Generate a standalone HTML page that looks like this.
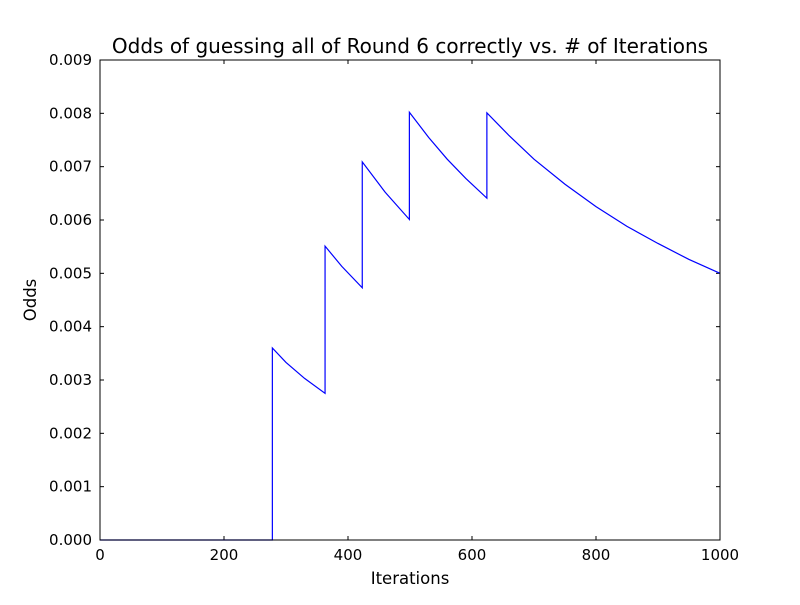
<!DOCTYPE html>
<html><head><meta charset="utf-8"><style>
body{margin:0;background:#fff}
svg text{font-family:"DejaVu Sans","Liberation Sans",sans-serif;fill:#000}
</style></head><body>
<svg id="chart" width="800" height="600" xmlns="http://www.w3.org/2000/svg">
<rect width="800" height="600" fill="#fff"/>
<text x="410" y="53" text-anchor="middle" font-size="20">Odds of guessing all of Round 6 correctly vs. # of Iterations</text>
<text x="410" y="584" text-anchor="middle" font-size="16.5">Iterations</text>
<text transform="translate(36,300) rotate(-90)" text-anchor="middle" font-size="16.5">Odds</text>
<g id="ticks"></g>
<polyline id="series" fill="none" stroke="#0000ff" stroke-width="1.2"/>
<rect x="100" y="60" width="620" height="480" fill="none" stroke="#000" stroke-width="1"/>
</svg>
<script>
const iterations = [0,278,278,300,330,363,363,390,423,423,460,499,499,530,560,590,624,624,660,700,750,800,850,900,950,1000];
const odds = [0,0,0.00360,0.00333,0.00303,0.00275,0.00551,0.00513,0.00473,0.00709,0.00652,0.00601,0.00802,0.00755,0.00714,0.00678,0.00641,0.00801,0.00758,0.00714,0.00667,0.00625,0.00588,0.00556,0.00526,0.00500];
const xTicks = [0,200,400,600,800,1000];
const yTicks = [0,0.001,0.002,0.003,0.004,0.005,0.006,0.007,0.008,0.009];
const yTickLabels = ["0.000","0.001","0.002","0.003","0.004","0.005","0.006","0.007","0.008","0.009"];
const X0=100,X1=720,Y0=540,Y1=60,XMAX=1000,YMAX=0.009;
function sx(v){return X0+(v/XMAX)*(X1-X0);}
function sy(v){return Y0-(v/YMAX)*(Y0-Y1);}
const NS="http://www.w3.org/2000/svg";
const g=document.getElementById('ticks');
function line(x1,y1,x2,y2){const l=document.createElementNS(NS,'line');l.setAttribute('x1',x1);l.setAttribute('y1',y1);l.setAttribute('x2',x2);l.setAttribute('y2',y2);l.setAttribute('stroke','#000');


g.appendChild(l);}
function txt(x,y,s,anchor){const t=document.createElementNS(NS,'text');t.setAttribute('x',x);t.setAttribute('y',y);t.setAttribute('font-size','15');t.setAttribute('text-anchor',anchor);t.textContent=s;


g.appendChild(t);}
xTicks.forEach(v=>{const x=sx(v);line(x,Y0,x,Y0-4);line(x,Y1,x,Y1+4);txt(x,Y0+20,String(v),'middle');});
yTicks.forEach((v,i)=>{const y=sy(v);line(X0,y,X0+4,y);line(X1,y,X1-4,y);txt(X0-8,y+5,yTickLabels[i],'end');});
document.getElementById('series').setAttribute('points',iterations.map((v,i)=>sx(v)+','+sy(odds[i])).join(' '));
</script>
</body></html>
